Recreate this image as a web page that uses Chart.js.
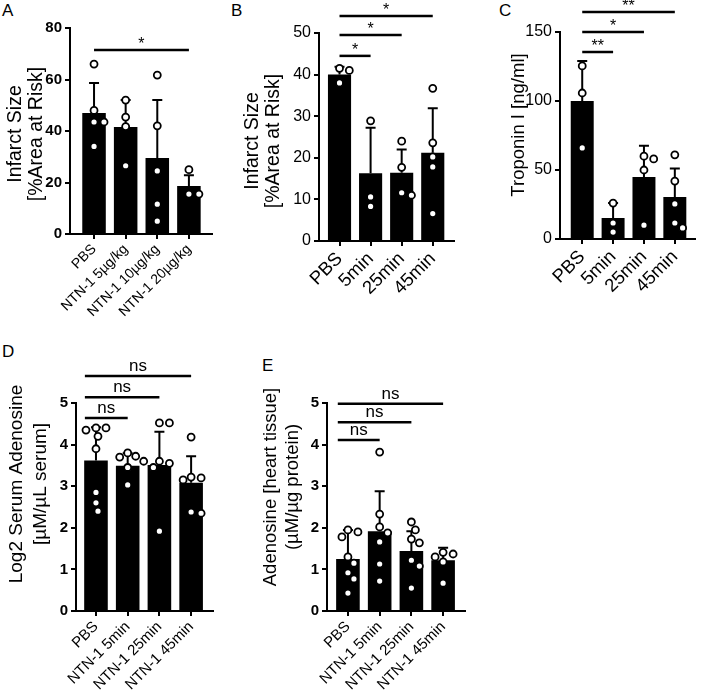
<!DOCTYPE html>
<html>
<head>
<meta charset="utf-8">
<script src="https://cdn.jsdelivr.net/npm/chart.js@4/dist/chart.umd.min.js"></script>
<style>
  body { margin: 0; background: #fff; width: 701px; height: 696px; position: relative; overflow: hidden; font-family: "Liberation Sans", Arial, sans-serif; }
  canvas { position: absolute; }
  .pl { position: absolute; font-size: 17px; color: #000; line-height: 1; }
</style>
</head>
<body>
<div class="pl" style="left:2px;top:2px">A</div>
<div class="pl" style="left:231px;top:2px">B</div>
<div class="pl" style="left:499px;top:2px">C</div>
<div class="pl" style="left:2px;top:343px">D</div>
<div class="pl" style="left:262px;top:357px">E</div>
<canvas id="cA" width="230" height="340" style="left:0;top:0"></canvas>
<canvas id="cB" width="230" height="340" style="left:230px;top:0"></canvas>
<canvas id="cC" width="241" height="340" style="left:460px;top:0"></canvas>
<canvas id="cD" width="250" height="356" style="left:0;top:340px"></canvas>
<canvas id="cE" width="250" height="356" style="left:250px;top:340px"></canvas>
<script>
// A - infarct size, NTN-1 dose
const catsA = ['PBS', 'NTN-1 5µg/kg', 'NTN-1 10µg/kg', 'NTN-1 20µg/kg'];
const meanA = [47, 41.6, 29.5, 18.6];
const sdA = [11.6, 10.4, 22.5, 4.2];
const ptsA = [[66, 48, 43.5, 43.5, 34], [52, 45.4, 41.7, 26.5], [61.7, 42, 24.5, 11.6, 5], [25, 15.5, 15.5]];
const yTicksA = [0, 20, 40, 60, 80];
const sigA = [[0, 3, 71.5, '*']];

// B - infarct size, time
const catsB = ['PBS', '5min', '25min', '45min'];
const meanB = [40, 16.3, 16.4, 21.2];
const sdB = [1.9, 10.9, 5.6, 10.7];
const ptsB = [[41.5, 41, 38], [28.9, 10.6, 8.3], [24, 17.7, 11.6, 11], [36.7, 23.6, 20.2, 17.8, 6.6]];
const yTicksB = [0, 10, 20, 30, 40, 50];
const sigB = [[0, 1, 44.5, '*'], [0, 2, 49.5, '*'], [0, 3, 54.1, '*']];

// C - troponin
const catsC = ['PBS', '5min', '25min', '45min'];
const meanC = [100, 15.2, 45, 30.5];
const sdC = [29, 10.8, 22.5, 20.5];
const ptsC = [[125.4, 105.8, 66], [26, 11.6, 5], [60, 58, 50, 10], [61, 42, 25.4, 11.6, 8]];
const yTicksC = [0, 50, 100, 150];
const sigC = [[0, 1, 135.5, '**'], [0, 2, 150, '*'], [0, 3, 164.5, '**']];

// D - serum adenosine
const catsD = ['PBS', 'NTN-1 5min', 'NTN-1 25min', 'NTN-1 45min'];
const meanD = [3.62, 3.49, 3.51, 3.08];
const sdD = [0.8, 0.3, 0.8, 0.64];
const ptsD = [[4.4, 4.4, 4.35, 4.2, 3.9, 2.85, 2.6, 2.4], [3.8, 3.72, 3.7, 3.6, 3.45, 3.03], [4.52, 4.52, 3.6, 3.55, 3.45, 1.92], [4.18, 3.22, 3.2, 3.15, 2.38, 2.35]];
const yTicksD = [0, 1, 2, 3, 4, 5];
const sigD = [[0, 1, 4.64, 'ns'], [0, 2, 5.14, 'ns'], [0, 3, 5.65, 'ns']];

// E - heart tissue adenosine
const catsE = ['PBS', 'NTN-1 5min', 'NTN-1 25min', 'NTN-1 45min'];
const meanE = [1.25, 1.92, 1.44, 1.22];
const sdE = [0.7, 0.96, 0.48, 0.3];
const ptsE = [[1.95, 1.9, 1.78, 1.3, 1.15, 0.92, 0.77, 0.43], [3.82, 2.33, 2.02, 1.88, 1.66, 1.13, 0.72], [2.14, 1.95, 1.73, 1.64, 1.22, 1.08, 0.55], [1.41, 1.37, 1.3, 1.18, 0.67]];
const yTicksE = [0, 1, 2, 3, 4, 5];
const sigE = [[0, 1, 4.11, 'ns'], [0, 2, 4.54, 'ns'], [0, 3, 4.98, 'ns']];

const FONT = '"Liberation Sans", Arial, sans-serif';

// spread points sideways so they don't overlap (px offsets)
function swarm(vals, pxY) {
    const placed = [];
    return vals.map(v => {
        const y = v * pxY;
        for (let k = 0; ; k++) {
            const dx = (k % 2 ? 1 : -1) * Math.ceil(k / 2) * 2;
            if (k > 30 || placed.every(p => Math.hypot(p[0] - dx, p[1] - y) >= 8.5)) {
                placed.push([dx, y]);
                return dx;
            }
        }
    });
}

function makePanel(id, d, s) {
    const yMax = d.yTicks[d.yTicks.length - 1];
    const pxY = (s.bottom - s.top) / yMax;
    const pxX = (s.right - s.left) / (s.xMax - s.xMin);
    const canvas = document.getElementById(id);
    const W = canvas.width, H = canvas.height;

    const pts = [];
    d.pts.forEach((grp, i) => {
        swarm(grp, pxY).forEach((dx, j) => pts.push({ x: i + dx / pxX, y: grp[j] }));
    });

    const extras = {
        id: 'extras',
        afterDatasetDraw(chart, args) {
            if (args.index !== 0) return;
            const xs = chart.scales.x, ys = chart.scales.y, ctx = chart.ctx;
            ctx.save();
            ctx.strokeStyle = '#000';
            ctx.lineWidth = 2;
            d.means.forEach((m, i) => {
                const px = xs.getPixelForValue(i);
                const top = ys.getPixelForValue(m + d.sds[i]);
                ctx.beginPath();
                ctx.moveTo(px, ys.getPixelForValue(m));
                ctx.lineTo(px, top);
                ctx.moveTo(px - 5, top);
                ctx.lineTo(px + 5, top);
                ctx.stroke();
            });
            ctx.restore();
        },
        afterDraw(chart) {
            const xs = chart.scales.x, ys = chart.scales.y, ctx = chart.ctx;
            ctx.save();
            // significance brackets
            ctx.strokeStyle = '#000';
            ctx.fillStyle = '#000';
            ctx.lineWidth = 2.5;
            ctx.textAlign = 'center';
            ctx.textBaseline = 'alphabetic';
            d.sig.forEach(([a, b, h, lab]) => {
                const x1 = xs.getPixelForValue(a + s.brStart), x2 = xs.getPixelForValue(b);
                const y = ys.getPixelForValue(h);
                ctx.beginPath();
                ctx.moveTo(x1, y);
                ctx.lineTo(x2, y);
                ctx.stroke();
                ctx.font = s.sigSize + 'px ' + FONT;
                ctx.fillText(lab, (x1 + x2) / 2, y - (lab === 'ns' ? 5 : 1));
            });
            // y axis title
            ctx.font = s.titleSize + 'px ' + FONT;
            ctx.textBaseline = 'middle';
            s.title.forEach(([tx, txt]) => {
                ctx.save();
                ctx.translate(tx, s.titleY);
                ctx.rotate(-Math.PI / 2);
                ctx.fillText(txt, 0, 0);
                ctx.restore();
            });
            ctx.restore();
        }
    };

    new Chart(canvas, {
        type: 'bar',
        data: {
            datasets: [{
                data: d.means.map((m, i) => ({ x: i, y: m })),
                backgroundColor: '#000',
                borderWidth: 0,
                barPercentage: 0.93,
                categoryPercentage: 0.8,
                order: 2
            }, {
                type: 'scatter',
                data: pts,
                pointRadius: 3.5,
                pointBorderWidth: 1.8,
                pointBackgroundColor: '#fff',
                pointBorderColor: '#000',
                clip: false,
                order: 1
            }]
        },
        options: {
            responsive: false,
            animation: false,
            layout: { padding: { left: 0, top: s.top, right: W - s.right, bottom: 0 } },
            plugins: { legend: { display: false }, tooltip: { enabled: false } },
            scales: {
                x: {
                    type: 'linear',
                    min: s.xMin,
                    max: s.xMax,
                    offset: false,
                    afterBuildTicks: sc => { sc.ticks = d.cats.map((c, i) => ({ value: i })); },
                    afterFit: sc => { sc.height = H - s.bottom; },
                    grid: { offset: false, drawOnChartArea: false, drawTicks: true, tickLength: 5, color: '#000', lineWidth: 2 },
                    border: { color: '#000', width: 2 },
                    ticks: {
                        autoSkip: false,
                        minRotation: 45,
                        maxRotation: 45,
                        padding: 2,
                        color: '#000',
                        font: { family: FONT, size: s.xSize },
                        callback: v => d.cats[v] ?? ''
                    }
                },
                y: {
                    min: 0,
                    max: yMax,
                    afterBuildTicks: sc => { sc.ticks = d.yTicks.map(v => ({ value: v })); },
                    afterFit: sc => { sc.width = s.left; },
                    grid: { drawOnChartArea: false, drawTicks: true, tickLength: 5, color: '#000', lineWidth: 2 },
                    border: { color: '#000', width: 2 },
                    ticks: {
                        padding: 3,
                        color: '#000',
                        font: { family: FONT, size: s.tickSize, weight: s.tickBold ? 'bold' : 'normal' }
                    }
                }
            }
        },
        plugins: [extras]
    });
}

makePanel('cA', { cats: catsA, means: meanA, sds: sdA, pts: ptsA, yTicks: yTicksA, sig: sigA },
    { left: 70, top: 28, right: 212, bottom: 234, xMin: -0.76, xMax: 3.73, brStart: 0,
      tickSize: 15, tickBold: true, xSize: 14, sigSize: 16, titleSize: 19.5,
      title: [[16, 'Infarct Size'], [37, '[%Area at Risk]']], titleY: 134 });

makePanel('cB', { cats: catsB, means: meanB, sds: sdB, pts: ptsB, yTicks: yTicksB, sig: sigB },
    { left: 89, top: 33, right: 227, bottom: 241, xMin: -0.66, xMax: 3.69, brStart: 0,
      tickSize: 16, tickBold: false, xSize: 18.5, sigSize: 16, titleSize: 19.5,
      title: [[23, 'Infarct Size'], [44, '[%Area at Risk]']], titleY: 141 });

makePanel('cC', { cats: catsC, means: meanC, sds: sdC, pts: ptsC, yTicks: yTicksC, sig: sigC },
    { left: 100, top: 32, right: 239, bottom: 239, xMin: -0.72, xMax: 3.66, brStart: 0,
      tickSize: 16, tickBold: false, xSize: 18.5, sigSize: 16, titleSize: 18.5,
      title: [[59, 'Troponin I [ng/ml]']], titleY: 125 });

makePanel('cD', { cats: catsD, means: meanD, sds: sdD, pts: ptsD, yTicks: yTicksD, sig: sigD },
    { left: 76, top: 63, right: 213, bottom: 271, xMin: -0.63, xMax: 3.69, brStart: -0.35,
      tickSize: 15, tickBold: true, xSize: 15, sigSize: 17, titleSize: 19,
      title: [[17, 'Log2 Serum Adenosine'], [41, '[µM/µL serum]']], titleY: 144 });

makePanel('cE', { cats: catsE, means: meanE, sds: sdE, pts: ptsE, yTicks: yTicksE, sig: sigE },
    { left: 77, top: 63, right: 215, bottom: 271, xMin: -0.66, xMax: 3.69, brStart: -0.32,
      tickSize: 15, tickBold: true, xSize: 15, sigSize: 17, titleSize: 18.5,
      title: [[21, 'Adenosine [heart tissue]'], [43, '(µM/µg protein)']], titleY: 147 });
</script>
</body>
</html>
